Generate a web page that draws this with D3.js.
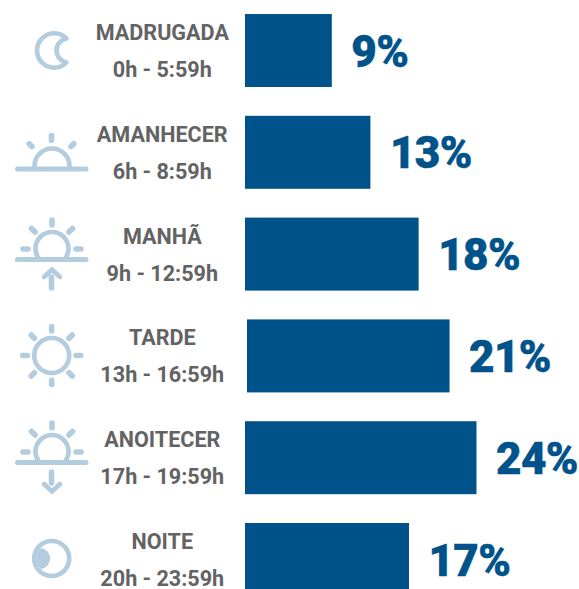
<!DOCTYPE html>
<html><head><meta charset="utf-8">
<script src="https://cdnjs.cloudflare.com/ajax/libs/d3/7.8.5/d3.min.js"></script>
<style>html,body{margin:0;padding:0;background:#fff;overflow:hidden}svg{display:block}</style>
</head><body><svg id="c" width="579" height="589"></svg>
<script>
const periods = ["MADRUGADA","AMANHECER","MANHÃ","TARDE","ANOITECER","NOITE"];
const hours = ["0h - 5:59h","6h - 8:59h","9h - 12:59h","13h - 16:59h","17h - 19:59h","20h - 23:59h"];
const shares = [9,13,18,21,24,17];
const icons = ["moon","sunrise","morning","sun","dusk","night"];

const BLUE="#00528a", LIGHT="#b3ccde", GREY="#636363";
const svg=d3.select("#c");
const x=d3.scaleLinear().domain([0,24]).range([0,231.5]);
const y=d3.scaleBand().domain(periods).range([14,596]).paddingInner(0.283).paddingOuter(0);
const xOff=p=>p==="TARDE"?247:245;

const rows=svg.selectAll("g.row").data(periods).join("g").attr("class","row");
rows.append("rect").attr("x",d=>xOff(d)).attr("y",d=>y(d)).attr("width",(d,i)=>x(shares[i])).attr("height",y.bandwidth()).attr("fill",BLUE);
rows.append("text").attr("x",(d,i)=>xOff(d)+x(shares[i])+19.5).attr("y",d=>y(d)+52.5)
 .attr("font-family","Roboto").attr("font-weight",900).attr("font-size",44).attr("letter-spacing",-0.6)
 .attr("fill",BLUE).attr("stroke",BLUE).attr("stroke-width",0.5).text((d,i)=>shares[i]+"%");
rows.append("text").attr("x",162.3).attr("y",d=>y(d)+26).attr("text-anchor","middle")
 .attr("font-family","Roboto").attr("font-weight",700).attr("font-size",21.6).attr("fill",GREY).text(d=>d);
rows.append("text").attr("x",162.3).attr("y",d=>y(d)+63).attr("text-anchor","middle")
 .attr("font-family","Roboto").attr("font-weight",700).attr("font-size",21.6).attr("fill",GREY).text((d,i)=>hours[i]);

function rays(g,cx,cy,r1,r2,angles){
  angles.forEach(a=>{const t=a*Math.PI/180;
    g.append("line").attr("x1",cx+r1*Math.cos(t)).attr("y1",cy-r1*Math.sin(t)).attr("x2",cx+r2*Math.cos(t)).attr("y2",cy-r2*Math.sin(t));});
}
function stroke(g){return g.attr("fill","none").attr("stroke",LIGHT).attr("stroke-width",4.6).attr("stroke-linecap","round").attr("stroke-linejoin","round");}
function dome(g,cx,cy,r,base){const dx=Math.sqrt(Math.max(r*r-(base-cy)*(base-cy),0));
  g.append("path").attr("d",`M${cx-dx},${base}A${r},${r} 0 ${base>cy?1:0} 1 ${cx+dx},${base}`);}
function hline(g,a,b,yy){g.append("line").attr("x1",a).attr("x2",b).attr("y1",yy).attr("y2",yy).attr("stroke-width",5);}
function thick(g,fn){fn(g.append("g").attr("stroke-width",5.6));}

const draw={
 moon(g){g.append("path").attr("d","M66.5,38.5A17.2,17.2 0 1 0 66.5,62.5A12.2,12.2 0 0 1 66.5,38.5Z");},
 sunrise(g){g.append("path").attr("d","M34.5,168V166A17.5,17.5 0 0 1 69.5,166V168");hline(g,17.5,86,169);
   thick(g,t=>{rays(t,51.5,166,25.5,30.5,[90]);rays(t,51.5,166,27.5,31.5,[45,135]);});},
 morning(g){dome(g,52,248.5,16.5,259);hline(g,17.5,86,259.5);
   thick(g,t=>{rays(t,52,249,24,29,[0,45,90,135,180]);
     t.append("line").attr("x1",51.5).attr("y1",277).attr("x2",51.5).attr("y2",288);});
   g.append("path").attr("d","M44,277L52,269.5L60,277");},
 sun(g){g.append("circle").attr("cx",51.7).attr("cy",355.5).attr("r",17.5);
   thick(g,t=>rays(t,51.7,355.5,24.5,29,[0,45,90,135,180,225,270,315]));},
 dusk(g){dome(g,52,451.5,16.5,462);hline(g,17.5,86,462.5);
   thick(g,t=>{rays(t,52,452,24,29,[0,45,90,135,180]);
     t.append("line").attr("x1",51.5).attr("y1",472).attr("x2",51.5).attr("y2",483);});
   g.append("path").attr("d","M44,484L52,491.5L60,484");},
 night(g){g.append("circle").attr("cx",51.7).attr("cy",558.5).attr("r",17.5);
   g.append("path").attr("d","M41,548A10.6,10.6 0 0 1 41,569A14,14 0 0 1 41,548Z").attr("fill",LIGHT).attr("stroke","none");}
};
icons.forEach(n=>{const g=stroke(svg.append("g").attr("class","icon-"+n));draw[n](g);});
</script></body></html>
